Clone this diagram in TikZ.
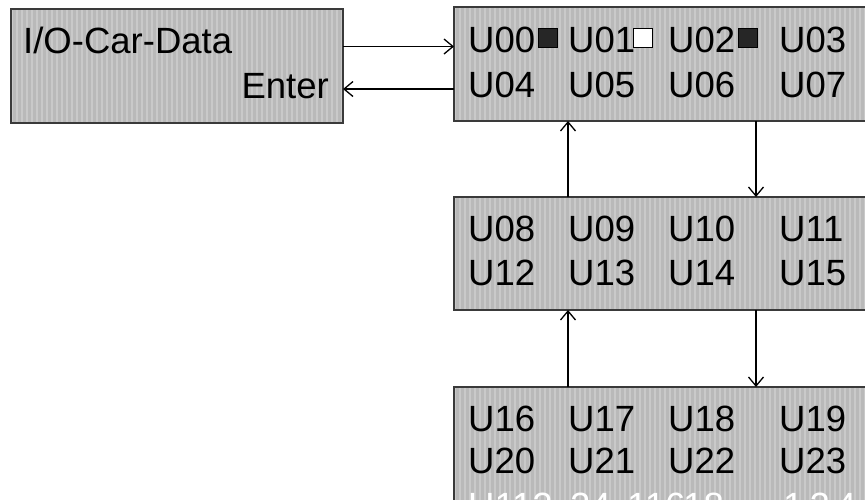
\documentclass[tikz,border=0pt]{standalone}
\usepackage{fontspec}
\setmainfont{Liberation Sans}
\usetikzlibrary{arrows.meta}
\definecolor{boxfill}{HTML}{B9B9B9}
\definecolor{stripecol}{HTML}{C9C9C9}
\definecolor{boxline}{HTML}{3A3A3A}
\begin{document}
\begin{tikzpicture}[x=1pt,y=-1pt,
  panel/.style={draw=boxline,line width=1.2pt,fill=boxfill,inner sep=0pt,outer sep=0pt,
    path picture={\foreach \i in {0,5,...,440}{\fill[stripecol] ([xshift=\i pt]path picture bounding box.south west) rectangle ([xshift=\i pt+2pt]path picture bounding box.north west);}}},
  lbl/.style={anchor=base west,inner sep=0pt,font=\fontsize{36.5}{40}\selectfont},
  wlbl/.style={lbl,text=white},
  conn/.style={line width=1.3pt,-{Straight Barb[length=9pt,width=15pt,line width=1.3pt]}},
  sq/.style={draw=black,line width=0.8pt,minimum size=19pt,inner sep=0pt}]
\clip (0,0) rectangle (865,499);
\useasboundingbox (0,0) rectangle (865,499);
% boxes
\node[panel,minimum width=332pt,minimum height=114pt] (io) at (177,66) {};
\node[panel,minimum width=430pt,minimum height=114pt] (p1) at (669,64) {};
\node[panel,minimum width=430pt,minimum height=113pt] (p2) at (669,253.5) {};
\node[panel,minimum width=430pt,minimum height=180pt] (p3) at (669,477) {};
% left texts
\node[lbl] (t1) at (23,53) {I/O-Car-Data};
\node[lbl,anchor=base east] (t2) at (329,98) {Enter};
% top panel
\node[lbl] (u00) at (468,52) {U00};
\node[lbl] (u01) at (568,52) {U01};
\node[lbl] (u02) at (668,52) {U02};
\node[lbl] (u03) at (779,52) {U03};
\node[lbl] (u04) at (468,97) {U04};
\node[lbl] (u05) at (568,97) {U05};
\node[lbl] (u06) at (668,97) {U06};
\node[lbl] (u07) at (779,97) {U07};
\node[sq,fill=black!85] (s1) at (548,37.5) {};
\node[sq,fill=white] (s2) at (642.5,37.5) {};
\node[sq,fill=black!85] (s3) at (747.5,37.5) {};
% middle panel
\node[lbl] (u08) at (468,241) {U08};
\node[lbl] (u09) at (568,241) {U09};
\node[lbl] (u10) at (668,241) {U10};
\node[lbl] (u11) at (779,241) {U11};
\node[lbl] (u12) at (468,285) {U12};
\node[lbl] (u13) at (568,285) {U13};
\node[lbl] (u14) at (668,285) {U14};
\node[lbl] (u15) at (779,285) {U15};
% bottom panel
\node[lbl] (u16) at (468,431) {U16};
\node[lbl] (u17) at (568,431) {U17};
\node[lbl] (u18) at (668,431) {U18};
\node[lbl] (u19) at (779,431) {U19};
\node[lbl] (u20) at (468,473) {U20};
\node[lbl] (u21) at (568,473) {U21};
\node[lbl] (u22) at (668,473) {U22};
\node[lbl] (u23) at (779,473) {U23};
\node[wlbl] (w1) at (468,518) {U112};
\node[wlbl] (w2) at (570,518) {24};
\node[wlbl] (w3) at (627,518) {116};
\node[wlbl] (w4) at (683,518) {18};
\node[wlbl] (w5) at (783,518) {1\,2\,4};
% connectors
\coordinate (a1) at (io.east |- 0,46.5);
\coordinate (b1) at (p1.west |- 0,46.5);
\coordinate (a2) at (io.east |- 0,89);
\coordinate (b2) at (p1.west |- 0,89);
\draw[conn] (a1) -- (b1);
\draw[conn] (b2) -- (a2);
\draw[conn] (p2.north -| 568,0) -- (p1.south -| 568,0);
\draw[conn] (p1.south -| 756,0) -- (p2.north -| 756,0);
\draw[conn] (p3.north -| 568,0) -- (p2.south -| 568,0);
\draw[conn] (p2.south -| 756,0) -- (p3.north -| 756,0);
\end{tikzpicture}
\end{document}
